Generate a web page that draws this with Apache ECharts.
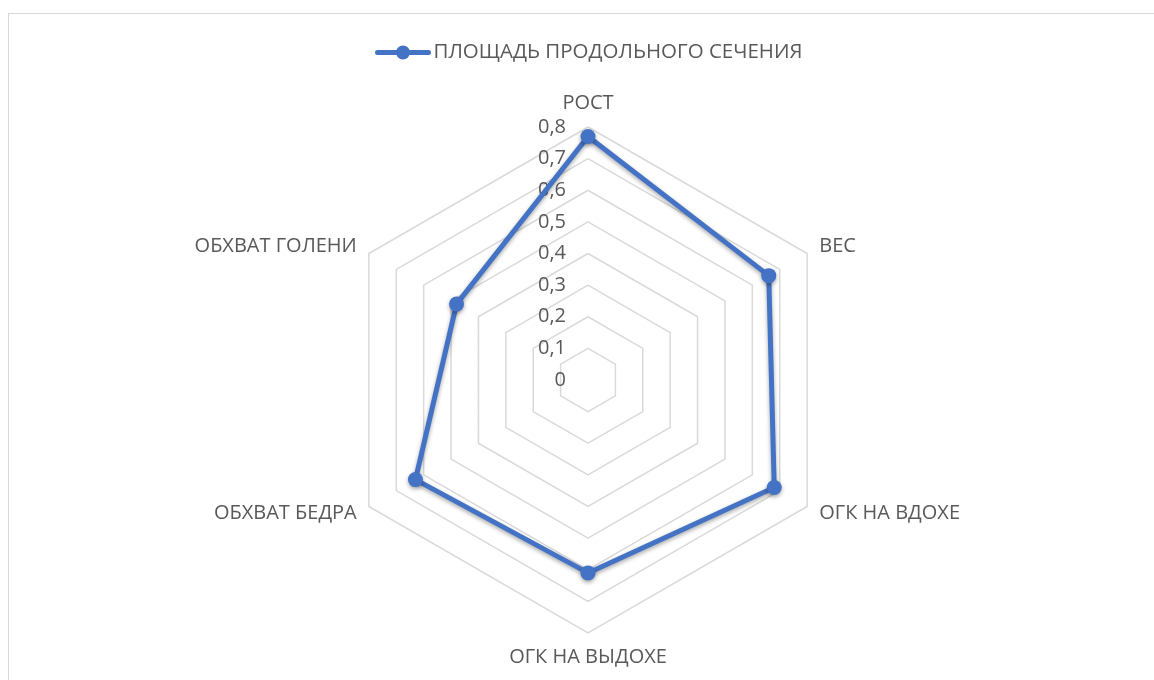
<!DOCTYPE html>
<html>
<head>
<meta charset="utf-8">
<title>Радарная диаграмма</title>
<script src="https://cdn.jsdelivr.net/npm/echarts@6/dist/echarts.min.js"></script>
<style>
    html, body { margin: 0; padding: 0; background: #fff; overflow: hidden; }
    #frame { position: absolute; left: 8px; top: 13px; width: 1300px; height: 800px; border: 1px solid #d9d9d9; box-sizing: border-box; }
    #chart { position: absolute; left: 0; top: 0; width: 1154px; height: 680px; }
</style>
</head>
<body>
<div id="frame"></div>
<div id="chart"></div>
<script>
    // Data
    const categories = ['РОСТ', 'ВЕС', 'ОГК НА ВДОХЕ', 'ОГК НА ВЫДОХЕ', 'ОБХВАТ БЕДРА', 'ОБХВАТ ГОЛЕНИ'];
    const seriesName = 'ПЛОЩАДЬ ПРОДОЛЬНОГО СЕЧЕНИЯ';
    const seriesValues = [0.77, 0.66, 0.68, 0.61, 0.63, 0.48];
    const axisMax = 0.8;
    const axisStep = 0.1;

    const textColor = '#595959';
    const fontFamily = '"Open Sans", "Noto Sans", sans-serif';
    const fontSize = 20;

    // ECharts walks the radar counter-clockwise, Excel clockwise: reverse all but the first
    const order = [0].concat(categories.map((_, i) => i).slice(1).reverse());

    // Only the first spoke gets value labels, like Excel
    const indicators = order.map(i => ({
        name: categories[i],
        min: 0,
        max: axisMax,
        axisLabel: i === 0 ? {
            show: true,
            color: textColor,
            fontSize: fontSize,
            fontFamily: fontFamily,
            margin: 22,
            showMinLabel: true,
            formatter: v => String(+Number(v).toFixed(1)).replace('.', ',')
        } : { show: false }
    }));
    const orderedValues = order.map(i => seriesValues[i]);

    const legendIcon = 'path://M2.5,4.5 L53.5,4.5 A2.5,2.5 0 0 1 53.5,9.5 L2.5,9.5 A2.5,2.5 0 0 1 2.5,4.5 Z M28,0 A7,7 0 1 1 27.99,0 Z';

    const chart = echarts.init(document.getElementById('chart'), null, { renderer: 'canvas' });

    chart.setOption({
        animation: false,
        textStyle: { fontFamily: fontFamily },
        legend: {
            top: 37,
            left: 370,
            icon: legendIcon,
            itemWidth: 57,
            itemHeight: 14,
            itemGap: 4,
            textStyle: { color: textColor, fontSize: 20.5, fontFamily: fontFamily, padding: [0, 0, 0, -3] },
            data: [seriesName]
        },
        radar: {
            center: [588, 380],
            radius: 253,
            startAngle: 90,
            shape: 'polygon',
            splitNumber: Math.round(axisMax / axisStep),
            indicator: indicators,
            nameGap: 14,
            axisName: { color: textColor, fontSize: fontSize, fontFamily: fontFamily },
            axisLine: { show: false },
            axisTick: { show: false },
            splitLine: { lineStyle: { color: '#d9d9d9', width: 1.5 } },
            splitArea: { show: false }
        },
        series: [{
            name: seriesName,
            type: 'radar',
            symbol: 'circle',
            symbolSize: 15,
            itemStyle: {
                color: '#4472c4',
                shadowColor: 'rgba(0,0,0,0.35)',
                shadowBlur: 4,
                shadowOffsetY: 2
            },
            lineStyle: {
                color: '#4472c4',
                width: 5,
                shadowColor: 'rgba(0,0,0,0.35)',
                shadowBlur: 4,
                shadowOffsetY: 2
            },
            data: [{ value: orderedValues, name: seriesName }]
        }]
    });

    window.addEventListener('resize', () => chart.resize());
</script>
</body>
</html>
